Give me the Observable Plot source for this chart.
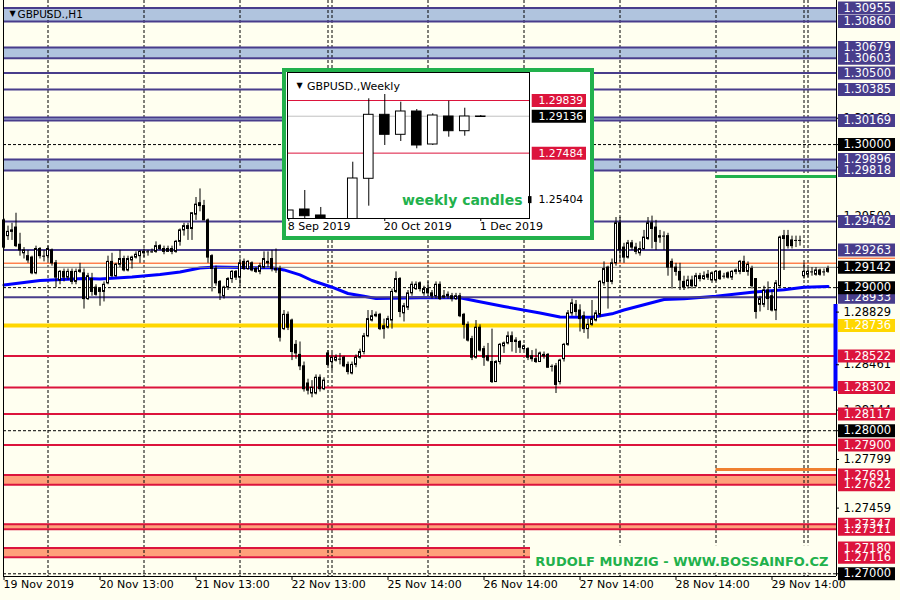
<!DOCTYPE html>
<html><head><meta charset="utf-8">
<script src="https://cdn.jsdelivr.net/npm/d3@7"></script>
<script src="https://cdn.jsdelivr.net/npm/@observablehq/plot@0.6"></script>
<style>
html,body{margin:0;padding:0;background:#fffff0;}
#wrap{position:relative;width:900px;height:600px;overflow:hidden;font-family:"DejaVu Sans",sans-serif;}
#inset{position:absolute;left:282px;top:68px;width:312px;height:172px;border:4px solid #22b14c;box-sizing:border-box;background:#fff;}
#inset svg,#main svg{display:block;}
</style></head><body><div id="wrap"><div id="main"></div><div id="inset"></div></div>
<script>
// ---------- H1 candles (GBPUSD) ----------
const open = [
1.2947,1.2936,1.2940,1.2942,1.2930,1.2924,1.2922,1.2921,1.2910,1.2927,
1.2922,1.2922,1.2926,1.2917,1.2905,1.2911,1.2907,1.2911,1.2904,1.2911,
1.2910,1.2892,1.2906,1.2900,1.2897,1.2897,1.2903,1.2918,1.2908,1.2916,
1.2920,1.2912,1.2919,1.2921,1.2922,1.2925,1.2925,1.2925,1.2925,1.2929,
1.2927,1.2925,1.2927,1.2925,1.2932,1.2940,1.2943,1.2941,1.2951,1.2959,
1.2957,1.2947,1.2922,1.2913,1.2904,1.2894,1.2900,1.2906,1.2911,1.2907,
1.2918,1.2913,1.2917,1.2913,1.2911,1.2914,1.2918,1.2920,1.2913,1.2913,
1.2871,1.2881,1.2877,1.2860,1.2853,1.2845,1.2833,1.2826,1.2826,1.2837,
1.2829,1.2854,1.2848,1.2849,1.2850,1.2851,1.2846,1.2840,1.2846,1.2851,
1.2855,1.2866,1.2877,1.2880,1.2881,1.2873,1.2872,1.2877,1.2897,1.2906,
1.2882,1.2886,1.2896,1.2899,1.2903,1.2896,1.2899,1.2896,1.2894,1.2902,
1.2893,1.2895,1.2894,1.2892,1.2894,1.2881,1.2874,1.2864,1.2851,1.2872,
1.2857,1.2852,1.2848,1.2834,1.2848,1.2859,1.2861,1.2866,1.2863,1.2862,
1.2857,1.2857,1.2852,1.2850,1.2848,1.2853,1.2853,1.2845,1.2845,1.2834,
1.2850,1.2860,1.2882,1.2888,1.2884,1.2880,1.2871,1.2874,1.2877,1.2881,
1.2903,1.2914,1.2904,1.2917,1.2945,1.2928,1.2921,1.2931,1.2928,1.2924,
1.2927,1.2934,1.2945,1.2942,1.2936,1.2936,1.2936,1.2918,1.2914,1.2911,
1.2904,1.2901,1.2905,1.2901,1.2908,1.2906,1.2909,1.2905,1.2905,1.2911,
1.2908,1.2910,1.2907,1.2911,1.2911,1.2918,1.2911,1.2913,1.2906,1.2888,
1.2888,1.2898,1.2894,1.2884,1.2901,1.2934,1.2936,1.2933,1.2933,1.2933,
1.2908,1.2909,1.2911,1.2909,1.2912,1.2911,1.2911];
const high = [
1.2948,1.2943,1.2945,1.2952,1.2938,1.2928,1.2926,1.2922,1.2929,1.2928,
1.2926,1.2929,1.2927,1.2919,1.2912,1.2913,1.2913,1.2913,1.2913,1.2917,
1.2913,1.2910,1.2910,1.2902,1.2900,1.2904,1.2922,1.2924,1.2917,1.2926,
1.2922,1.2922,1.2922,1.2925,1.2926,1.2927,1.2926,1.2927,1.2932,1.2930,
1.2929,1.2929,1.2929,1.2933,1.2941,1.2945,1.2945,1.2952,1.2963,1.2969,
1.2961,1.2948,1.2923,1.2915,1.2905,1.2901,1.2907,1.2912,1.2912,1.2920,
1.2920,1.2919,1.2918,1.2914,1.2917,1.2925,1.2925,1.2926,1.2927,1.2915,
1.2884,1.2883,1.2878,1.2863,1.2862,1.2848,1.2836,1.2835,1.2839,1.2839,
1.2837,1.2856,1.2854,1.2853,1.2854,1.2852,1.2848,1.2848,1.2853,1.2857,
1.2868,1.2884,1.2884,1.2883,1.2882,1.2878,1.2880,1.2899,1.2911,1.2907,
1.2889,1.2898,1.2904,1.2904,1.2904,1.2901,1.2904,1.2898,1.2904,1.2904,
1.2898,1.2897,1.2896,1.2896,1.2896,1.2882,1.2876,1.2866,1.2877,1.2874,
1.2859,1.2861,1.2871,1.2849,1.2861,1.2862,1.2869,1.2869,1.2865,1.2863,
1.2860,1.2858,1.2856,1.2857,1.2855,1.2855,1.2854,1.2846,1.2847,1.2850,
1.2861,1.2884,1.2892,1.2891,1.2888,1.2883,1.2878,1.2891,1.2884,1.2905,
1.2918,1.2915,1.2920,1.2949,1.2949,1.2931,1.2933,1.2933,1.2931,1.2932,
1.2940,1.2949,1.2950,1.2947,1.2940,1.2939,1.2938,1.2920,1.2917,1.2917,
1.2908,1.2908,1.2908,1.2910,1.2910,1.2911,1.2912,1.2911,1.2912,1.2912,
1.2910,1.2911,1.2912,1.2913,1.2919,1.2922,1.2918,1.2915,1.2906,1.2894,
1.2901,1.2904,1.2898,1.2905,1.2936,1.2940,1.2940,1.2936,1.2936,1.2936,
1.2917,1.2914,1.2914,1.2914,1.2913,1.2913,1.2915];
const low = [
1.2927,1.2933,1.2933,1.2928,1.2922,1.2920,1.2917,1.2909,1.2909,1.2920,
1.2918,1.2919,1.2915,1.2900,1.2902,1.2904,1.2905,1.2902,1.2902,1.2910,
1.2885,1.2891,1.2894,1.2894,1.2887,1.2890,1.2902,1.2907,1.2907,1.2914,
1.2911,1.2911,1.2913,1.2920,1.2917,1.2921,1.2922,1.2924,1.2924,1.2926,
1.2923,1.2925,1.2923,1.2924,1.2929,1.2936,1.2933,1.2933,1.2947,1.2953,
1.2947,1.2917,1.2897,1.2901,1.2891,1.2892,1.2898,1.2903,1.2905,1.2901,
1.2912,1.2912,1.2911,1.2910,1.2909,1.2913,1.2914,1.2911,1.2910,1.2862,
1.2870,1.2870,1.2849,1.2850,1.2842,1.2827,1.2825,1.2823,1.2825,1.2827,
1.2828,1.2845,1.2842,1.2848,1.2846,1.2844,1.2839,1.2839,1.2844,1.2850,
1.2853,1.2865,1.2876,1.2879,1.2870,1.2864,1.2871,1.2871,1.2896,1.2879,
1.2876,1.2884,1.2894,1.2898,1.2897,1.2894,1.2894,1.2892,1.2892,1.2891,
1.2892,1.2892,1.2890,1.2891,1.2879,1.2864,1.2862,1.2849,1.2850,1.2855,
1.2845,1.2848,1.2833,1.2834,1.2846,1.2854,1.2860,1.2855,1.2854,1.2854,
1.2856,1.2849,1.2848,1.2847,1.2848,1.2850,1.2844,1.2841,1.2826,1.2832,
1.2848,1.2859,1.2880,1.2880,1.2869,1.2868,1.2864,1.2873,1.2876,1.2879,
1.2901,1.2885,1.2902,1.2915,1.2918,1.2917,1.2920,1.2926,1.2923,1.2922,
1.2926,1.2933,1.2927,1.2926,1.2931,1.2926,1.2908,1.2899,1.2908,1.2898,
1.2898,1.2899,1.2899,1.2900,1.2904,1.2905,1.2905,1.2903,1.2904,1.2905,
1.2906,1.2906,1.2905,1.2909,1.2909,1.2911,1.2908,1.2899,1.2878,1.2883,
1.2886,1.2884,1.2883,1.2877,1.2900,1.2912,1.2927,1.2927,1.2928,1.2929,
1.2906,1.2907,1.2908,1.2908,1.2908,1.2908,1.2910];
const close = [
1.2928,1.2939,1.2939,1.2929,1.2926,1.2926,1.2919,1.2910,1.2927,1.2922,
1.2922,1.2927,1.2917,1.2907,1.2911,1.2907,1.2911,1.2904,1.2911,1.2912,
1.2892,1.2908,1.2897,1.2895,1.2899,1.2902,1.2918,1.2908,1.2916,1.2920,
1.2912,1.2920,1.2921,1.2923,1.2925,1.2924,1.2925,1.2925,1.2929,1.2927,
1.2925,1.2927,1.2925,1.2932,1.2940,1.2943,1.2941,1.2952,1.2958,1.2957,
1.2947,1.2921,1.2913,1.2903,1.2896,1.2900,1.2906,1.2911,1.2907,1.2917,
1.2913,1.2918,1.2912,1.2911,1.2915,1.2920,1.2917,1.2913,1.2912,1.2865,
1.2881,1.2872,1.2855,1.2854,1.2845,1.2829,1.2828,1.2830,1.2837,1.2829,
1.2835,1.2846,1.2851,1.2851,1.2850,1.2845,1.2841,1.2846,1.2851,1.2855,
1.2866,1.2878,1.2880,1.2881,1.2871,1.2871,1.2878,1.2897,1.2906,1.2883,
1.2887,1.2896,1.2902,1.2902,1.2899,1.2899,1.2896,1.2894,1.2902,1.2892,
1.2894,1.2894,1.2892,1.2894,1.2880,1.2874,1.2863,1.2851,1.2872,1.2856,
1.2851,1.2849,1.2834,1.2848,1.2860,1.2861,1.2866,1.2862,1.2862,1.2858,
1.2859,1.2851,1.2850,1.2848,1.2854,1.2852,1.2844,1.2845,1.2832,1.2849,
1.2860,1.2882,1.2889,1.2883,1.2878,1.2871,1.2874,1.2878,1.2882,1.2904,
1.2913,1.2904,1.2917,1.2945,1.2926,1.2921,1.2931,1.2928,1.2925,1.2927,
1.2935,1.2945,1.2941,1.2932,1.2935,1.2936,1.2914,1.2914,1.2911,1.2905,
1.2900,1.2905,1.2901,1.2908,1.2906,1.2908,1.2907,1.2910,1.2911,1.2906,
1.2908,1.2907,1.2911,1.2912,1.2918,1.2911,1.2916,1.2901,1.2883,1.2892,
1.2898,1.2892,1.2884,1.2903,1.2935,1.2936,1.2929,1.2929,1.2933,1.2933,
1.2911,1.2911,1.2911,1.2912,1.2909,1.2911,1.2913];

// moving average (read at sample bars)
const maBar = [0,9,20,24,32,39,44,49,53,59,67,70,74,77,82,86,90,93,104,114,118,125,134,139,147,152,155,165,170,178,187,195,200,206];
const maVal = [1.29018,1.29050,1.29064,1.29060,1.29074,1.29092,1.29110,1.29137,1.29144,1.29140,1.29139,1.29124,1.29089,1.29050,1.29003,1.28959,1.28940,1.28924,1.28929,1.28929,1.28906,1.28868,1.28823,1.28795,1.28793,1.28817,1.28844,1.28917,1.28922,1.28940,1.28968,1.28985,1.29003,1.29008];

// horizontal levels
const navyLines = [1.30955,1.30860,1.30679,1.30603,1.30500,1.30385,1.30190,1.30169,1.29896,1.29818,1.29462,1.29263,1.28933];
const blueBandLo = [1.30860,1.30603,1.30169,1.29818];
const blueBandHi = [1.30955,1.30679,1.30190,1.29896];
const redLines = [1.28522,1.28302,1.28117,1.27900,1.27691,1.27622,1.27347,1.27311,1.27180,1.27116];
const redBandLo = [1.27622,1.27311,1.27116];
const redBandHi = [1.27691,1.27347,1.27180];
const goldLine = [1.28736];
const bidPrice = 1.29142, askPrice = 1.29171;
const gridPrices = [1.30,1.29,1.28,1.27];
const gridBars = [11,35,59,81,82,106,130,154,178,200,201];
const greenTarget = 1.29777, orangeTarget = 1.27729, targetFromBar = 178;
const rangeLo = 1.28274, rangeHi = 1.28882;

// price-axis labels
const navyLabels = [1.30955,1.30860,1.30679,1.30603,1.30500,1.30385,1.30169,1.29896,1.29818,1.29462,1.29263,1.28933];
const redLabels = [1.28522,1.28302,1.28117,1.27900,1.27691,1.27622,1.27347,1.27311,1.27180,1.27116];
const goldLabels = [1.28736];
const blackLabels = [1.30000,1.29142,1.29000,1.28000,1.27000];
const axisLabels = [1.30184,1.29842,1.29500,1.28829,1.28461,1.28144,1.27799,1.27459];

// time axis
const timeBars = [0,24,48,72,96,120,144,168,192];
const timeLabels = ["19 Nov 2019","20 Nov 13:00","21 Nov 13:00","22 Nov 13:00","25 Nov 14:00","26 Nov 14:00","27 Nov 14:00","28 Nov 14:00","29 Nov 14:00"];

// ---------- Weekly inset ----------
const wIdx   = [0,1,2,4,5,6,7,8,9,10,11,12];
const wOpen  = [1.2290,1.24962,1.24694,1.2330,1.26336,1.29199,1.28304,1.29347,1.27870,1.29123,1.28465,1.29110];
const wHigh  = [1.24917,1.25812,1.25052,1.27078,1.29915,1.30107,1.29763,1.29436,1.29244,1.29808,1.29494,1.29168];
const wLow   = [1.2280,1.2350,1.2200,1.2300,1.25110,1.27826,1.28005,1.27678,1.27826,1.28197,1.28242,1.29078];
const wClose = [1.24917,1.24662,1.2290,1.26349,1.29199,1.28304,1.29347,1.27826,1.29168,1.28465,1.29123,1.29123];
const wTickIdx = [0,6,12];
const wTickLabels = ["8 Sep 2019","20 Oct 2019","1 Dec 2019"];
const wRedLevels = [1.29839,1.27484];
const wBid = 1.29136;
const wAxisLabel = [1.25404];

// ---------- build ----------
const BG = "#fffff0", NAVY = "#483d8b", CRIMSON = "#dc143c", SALMON = "#ffa07a", LSB = "#b0c4de", GOLD = "#ffd700", GREEN = "#22b14c";
const X0 = -0.125, X1 = 208.125, Y0 = 1.26981, Y1 = 1.31007;

const bars = open.map((o, i) => ({i, o, h: high[i], l: low[i], c: close[i]}));
const ma = maBar.map((b, k) => ({b, v: maVal[k]}));
const blueBands = blueBandLo.map((lo, k) => ({lo, hi: blueBandHi[k]}));
const redBands = redBandLo.map((lo, k) => ({lo, hi: redBandHi[k]}));
const timeTicks = timeBars.map((b, k) => ({b, t: timeLabels[k]}));

function priceLabels(values, bg, fg, w = 59) {
  return [
    Plot.ruleY(values, {y: d => d, stroke: bg, strokeWidth: 13, insetLeft: 835, insetRight: -w}),
    Plot.text(values, {y: d => d, text: d => d.toFixed(5), frameAnchor: "right", dx: 7, textAnchor: "start", fill: fg, fontSize: 11.5})
  ];
}

const main = Plot.plot({
  width: 900, height: 600, marginLeft: 3, marginRight: 64, marginTop: 0, marginBottom: 24,
  style: {background: BG, fontFamily: "DejaVu Sans", overflow: "visible"},
  x: {domain: [X0, X1], axis: null},
  y: {domain: [Y0, Y1], axis: null},
  marks: [
    Plot.rect(blueBands, {y1: "lo", y2: "hi", fill: LSB}),
    Plot.rect(redBands, {y1: "lo", y2: "hi", fill: SALMON}),
    Plot.ruleY(gridPrices, {y: d => d, stroke: "#000", strokeWidth: 1, strokeDasharray: "3,2"}),
    Plot.ruleX(gridBars, {x: d => d, stroke: "#000", strokeWidth: 1, strokeDasharray: "3,2"}),
    Plot.line(ma, {x: "b", y: "v", stroke: "#0000ff", strokeWidth: 3}),
    Plot.ruleY(navyLines, {y: d => d, stroke: NAVY, strokeWidth: 2}),
    Plot.ruleY(redLines, {y: d => d, stroke: CRIMSON, strokeWidth: 2}),
    Plot.ruleY(goldLine, {y: d => d, stroke: GOLD, strokeWidth: 4}),
    Plot.ruleY([askPrice], {y: d => d, stroke: "#ff4500", strokeWidth: 1}),
    Plot.ruleY([bidPrice], {y: d => d, stroke: "#808080", strokeWidth: 1}),
    Plot.ruleY([greenTarget], {y: d => d, x1: () => targetFromBar, x2: () => X1, stroke: GREEN, strokeWidth: 3}),
    Plot.ruleY([orangeTarget], {y: d => d, x1: () => targetFromBar, x2: () => X1, stroke: "#f08030", strokeWidth: 3}),
    // candles
    Plot.ruleX(bars, {x: "i", y1: "l", y2: "h", stroke: "#000", strokeWidth: 1}),
    Plot.rect(bars.filter(d => d.c > d.o), {x1: d => d.i - 0.25, x2: d => d.i + 0.25, y1: "o", y2: "c", fill: "#fff", stroke: "#000", strokeWidth: 1}),
    Plot.rect(bars.filter(d => d.c < d.o), {x1: d => d.i - 0.25, x2: d => d.i + 0.25, y1: "o", y2: "c", fill: "#000", stroke: "#000", strokeWidth: 1}),
    Plot.ruleY(bars.filter(d => d.c === d.o), {y: "c", x1: d => d.i - 0.375, x2: d => d.i + 0.375, stroke: "#000", strokeWidth: 1}),
    // borders
    Plot.ruleX([X0, X1], {x: d => d, stroke: "#000", strokeWidth: 1}),
    Plot.ruleY([Y0], {y: d => d, stroke: "#000", strokeWidth: 1}),
    Plot.ruleX([{lo: rangeLo, hi: rangeHi}], {x: () => X1, y1: "lo", y2: "hi", stroke: "#0000ff", strokeWidth: 4, dx: -1}),
    // price labels
    Plot.ruleY([...axisLabels, ...blackLabels], {y: d => d, stroke: "#000", insetLeft: 833, insetRight: -3}),
    Plot.text(axisLabels, {y: d => d, text: d => d.toFixed(5), frameAnchor: "right", dx: 7, textAnchor: "start", fill: "#000", fontSize: 11.5}),
    ...priceLabels(navyLabels, NAVY, "#fff"),
    Plot.ruleY([askPrice], {y: d => d, stroke: "#ff4500", strokeWidth: 1, insetLeft: 835, insetRight: -59, dy: -5}),
    ...priceLabels(redLabels, CRIMSON, "#fff"),
    ...priceLabels(goldLabels, GOLD, "#fff"),
    ...priceLabels(blackLabels, "#000", "#fff"),
    // time axis
    Plot.ruleX(timeTicks, {x: "b", stroke: "#000", insetTop: 576, insetBottom: -4}),
    Plot.text(timeTicks, {x: "b", text: "t", frameAnchor: "bottom", dy: 11, dx: -0.5, textAnchor: "start", fill: "#000", fontSize: 11}),
    // signature
    Plot.rect([{lo: 1.27004, hi: 1.27196}], {y1: "lo", y2: "hi", insetLeft: 527, fill: BG}),
    Plot.text(["RUDOLF MUNZIG - WWW.BOSSAINFO.CZ"], {frameAnchor: "bottom-right", dx: -8, dy: -11, textAnchor: "end", fill: GREEN, fontWeight: "bold", fontSize: 13}),
    // title
    Plot.text(["▼"], {frameAnchor: "top-left", dx: 6, dy: 10, fontSize: 8, fill: "#000"}),
    Plot.text(["GBPUSD.,H1"], {frameAnchor: "top-left", dx: 14, dy: 10, textAnchor: "start", fontSize: 10.5, fill: "#000"})
  ]
});
document.getElementById("main").appendChild(main);

const weekly = wIdx.map((k, j) => ({k, o: wOpen[j], h: wHigh[j], l: wLow[j], c: wClose[j]}));
const wTicks = wTickIdx.map((k, j) => ({k, t: wTickLabels[j]}));
function wLabels(values, bg, fg) {
  return [
    Plot.ruleY(values, {y: d => d, stroke: bg, strokeWidth: 13, insetLeft: 244.7, insetRight: -57}),
    Plot.text(values, {y: d => d, text: d => d.toFixed(5), frameAnchor: "right", dx: 9, textAnchor: "start", fill: fg, fontSize: 10.8})
  ];
}
const inset = Plot.plot({
  width: 304, height: 164, marginLeft: 1, marginRight: 61, marginTop: 0, marginBottom: 18,
  style: {background: "#fff", fontFamily: "DejaVu Sans", overflow: "visible"},
  x: {domain: [-0.08, 15.045], axis: null},
  y: {domain: [1.24559, 1.31092], axis: null},
  marks: [
    Plot.ruleY(wRedLevels, {y: d => d, stroke: CRIMSON, strokeWidth: 1}),
    Plot.ruleY([wBid], {y: d => d, stroke: "#c0c0c0", strokeWidth: 1}),
    Plot.ruleX(weekly, {x: "k", y1: "l", y2: "h", stroke: "#000", strokeWidth: 1, clip: true}),
    Plot.rect(weekly.filter(d => d.c > d.o), {x1: d => d.k - 0.3, x2: d => d.k + 0.3, y1: "o", y2: "c", fill: "#fff", stroke: "#000", strokeWidth: 1, clip: true}),
    Plot.rect(weekly.filter(d => d.c <= d.o), {x1: d => d.k - 0.3, x2: d => d.k + 0.3, y1: "o", y2: "c", fill: "#000", stroke: "#000", strokeWidth: 1, clip: true}),
    Plot.ruleY(weekly.filter(d => Math.abs(d.c - d.o) < 0.0002), {y: "c", x1: d => d.k - 0.3, x2: d => d.k + 0.3, stroke: "#000", strokeWidth: 1}),
    Plot.frame({stroke: "#000"}),
    Plot.ruleX(wTicks, {x: "k", stroke: "#000", insetTop: 146, insetBottom: -3}),
    Plot.text(wTicks, {x: "k", text: "t", frameAnchor: "bottom", dy: 11, dx: -1, textAnchor: "start", fill: "#000", fontSize: 11}),
    ...wLabels(wRedLevels, CRIMSON, "#fff"),
    ...wLabels([wBid], "#000", "#fff"),
    Plot.ruleY(wAxisLabel, {y: d => d, stroke: "#000", strokeWidth: 7, insetLeft: 241, insetRight: -2.5}),
    Plot.text(wAxisLabel, {y: d => d, text: d => d.toFixed(5), frameAnchor: "right", dx: 9, textAnchor: "start", fill: "#000", fontSize: 10.8}),
    Plot.text(["weekly candles"], {frameAnchor: "bottom-right", dx: -7, dy: -14, textAnchor: "end", fill: GREEN, fontWeight: "bold", fontSize: 14}),
    Plot.text(["▼"], {frameAnchor: "top-left", dx: 9, dy: 10, fontSize: 8, fill: "#000"}),
    Plot.text(["GBPUSD.,Weekly"], {frameAnchor: "top-left", dx: 19.5, dy: 10, textAnchor: "start", fontSize: 11, fill: "#000"})
  ]
});
document.getElementById("inset").appendChild(inset);
</script>
</body></html>
